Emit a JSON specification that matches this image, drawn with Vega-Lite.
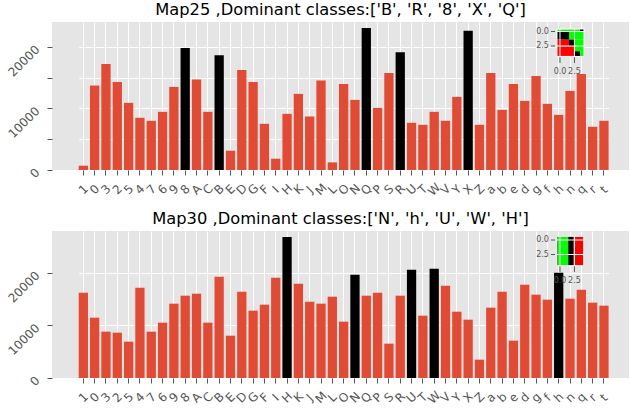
{
  "$schema": "https://vega.github.io/schema/vega-lite/v6.json",
  "background": "white",
  "padding": {"left": 5, "top": 1, "right": 0, "bottom": 0},
  "spacing": 12,
  "config": {
    "view": {"fill": "#E5E5E5", "stroke": null},
    "font": "DejaVu Sans",
    "axis": {"domain": false, "grid": true, "gridColor": "#FFFFFF", "gridWidth": 1, "tickColor": "#555555", "tickSize": 5, "tickWidth": 1, "labelColor": "#555555", "labelFont": "DejaVu Sans", "labelFontSize": 12},
    "title": {"font": "DejaVu Sans", "fontSize": 16.3, "fontWeight": "normal", "color": "#000000", "anchor": "middle", "frame": "group", "baseline": "alphabetic", "offset": 4}
  },
  "datasets": {
    "map25": [
      {"cls": "1", "value": 700, "dom": "no"},
      {"cls": "0", "value": 13730, "dom": "no"},
      {"cls": "3", "value": 17240, "dom": "no"},
      {"cls": "2", "value": 14320, "dom": "no"},
      {"cls": "5", "value": 10920, "dom": "no"},
      {"cls": "4", "value": 8490, "dom": "no"},
      {"cls": "7", "value": 8000, "dom": "no"},
      {"cls": "6", "value": 9460, "dom": "no"},
      {"cls": "9", "value": 13510, "dom": "no"},
      {"cls": "8", "value": 19840, "dom": "yes"},
      {"cls": "A", "value": 14700, "dom": "no"},
      {"cls": "C", "value": 9460, "dom": "no"},
      {"cls": "B", "value": 18650, "dom": "yes"},
      {"cls": "E", "value": 3135, "dom": "no"},
      {"cls": "D", "value": 16270, "dom": "no"},
      {"cls": "G", "value": 14320, "dom": "no"},
      {"cls": "F", "value": 7510, "dom": "no"},
      {"cls": "I", "value": 1840, "dom": "no"},
      {"cls": "H", "value": 9130, "dom": "no"},
      {"cls": "K", "value": 12380, "dom": "no"},
      {"cls": "J", "value": 8700, "dom": "no"},
      {"cls": "M", "value": 14540, "dom": "no"},
      {"cls": "L", "value": 1240, "dom": "no"},
      {"cls": "O", "value": 14000, "dom": "no"},
      {"cls": "N", "value": 11400, "dom": "no"},
      {"cls": "Q", "value": 23080, "dom": "yes"},
      {"cls": "P", "value": 10100, "dom": "no"},
      {"cls": "S", "value": 15780, "dom": "no"},
      {"cls": "R", "value": 19130, "dom": "yes"},
      {"cls": "U", "value": 7675, "dom": "no"},
      {"cls": "T", "value": 7350, "dom": "no"},
      {"cls": "W", "value": 9460, "dom": "no"},
      {"cls": "V", "value": 8000, "dom": "no"},
      {"cls": "Y", "value": 11890, "dom": "no"},
      {"cls": "X", "value": 22650, "dom": "yes"},
      {"cls": "Z", "value": 7350, "dom": "no"},
      {"cls": "a", "value": 15780, "dom": "no"},
      {"cls": "b", "value": 9780, "dom": "no"},
      {"cls": "e", "value": 14000, "dom": "no"},
      {"cls": "d", "value": 11240, "dom": "no"},
      {"cls": "g", "value": 15300, "dom": "no"},
      {"cls": "f", "value": 10760, "dom": "no"},
      {"cls": "h", "value": 8970, "dom": "no"},
      {"cls": "n", "value": 12860, "dom": "no"},
      {"cls": "q", "value": 15620, "dom": "no"},
      {"cls": "r", "value": 7030, "dom": "no"},
      {"cls": "t", "value": 8000, "dom": "no"}
    ],
    "map30": [
      {"cls": "1", "value": 16250, "dom": "no"},
      {"cls": "0", "value": 11490, "dom": "no"},
      {"cls": "3", "value": 8825, "dom": "no"},
      {"cls": "2", "value": 8635, "dom": "no"},
      {"cls": "5", "value": 6920, "dom": "no"},
      {"cls": "4", "value": 17200, "dom": "no"},
      {"cls": "7", "value": 8825, "dom": "no"},
      {"cls": "6", "value": 10540, "dom": "no"},
      {"cls": "9", "value": 14160, "dom": "no"},
      {"cls": "8", "value": 15680, "dom": "no"},
      {"cls": "A", "value": 16060, "dom": "no"},
      {"cls": "C", "value": 10540, "dom": "no"},
      {"cls": "B", "value": 19300, "dom": "no"},
      {"cls": "E", "value": 8060, "dom": "no"},
      {"cls": "D", "value": 16440, "dom": "no"},
      {"cls": "G", "value": 12825, "dom": "no"},
      {"cls": "F", "value": 13970, "dom": "no"},
      {"cls": "I", "value": 19110, "dom": "no"},
      {"cls": "H", "value": 26860, "dom": "yes"},
      {"cls": "K", "value": 17970, "dom": "no"},
      {"cls": "J", "value": 14540, "dom": "no"},
      {"cls": "M", "value": 14160, "dom": "no"},
      {"cls": "L", "value": 15490, "dom": "no"},
      {"cls": "O", "value": 10730, "dom": "no"},
      {"cls": "N", "value": 19680, "dom": "yes"},
      {"cls": "Q", "value": 15680, "dom": "no"},
      {"cls": "P", "value": 16250, "dom": "no"},
      {"cls": "S", "value": 6540, "dom": "no"},
      {"cls": "R", "value": 15680, "dom": "no"},
      {"cls": "U", "value": 20630, "dom": "yes"},
      {"cls": "T", "value": 11870, "dom": "no"},
      {"cls": "W", "value": 20825, "dom": "yes"},
      {"cls": "V", "value": 17590, "dom": "no"},
      {"cls": "Y", "value": 12630, "dom": "no"},
      {"cls": "X", "value": 11110, "dom": "no"},
      {"cls": "Z", "value": 3490, "dom": "no"},
      {"cls": "a", "value": 13400, "dom": "no"},
      {"cls": "b", "value": 16440, "dom": "no"},
      {"cls": "e", "value": 7110, "dom": "no"},
      {"cls": "d", "value": 17780, "dom": "no"},
      {"cls": "g", "value": 15870, "dom": "no"},
      {"cls": "f", "value": 14920, "dom": "no"},
      {"cls": "h", "value": 20060, "dom": "yes"},
      {"cls": "n", "value": 15110, "dom": "no"},
      {"cls": "q", "value": 16820, "dom": "no"},
      {"cls": "r", "value": 14350, "dom": "no"},
      {"cls": "t", "value": 13780, "dom": "no"}
    ],
    "inset25": [
      {"x1": -0.52, "x2": 3.45, "y1": -0.43, "y2": -0.03, "c": "g"},
      {"x1": 3.45, "x2": 4.14, "y1": -0.43, "y2": -0.03, "c": "k"},
      {"x1": -0.52, "x2": 1.55, "y1": -0.03, "y2": 1.41, "c": "k"},
      {"x1": 1.55, "x2": 4.14, "y1": -0.03, "y2": 1.41, "c": "g"},
      {"x1": -0.52, "x2": 1.55, "y1": 1.41, "y2": 2.55, "c": "r"},
      {"x1": 1.55, "x2": 2.41, "y1": 1.41, "y2": 2.55, "c": "k"},
      {"x1": 2.41, "x2": 4.14, "y1": 1.41, "y2": 3.41, "c": "g"},
      {"x1": -0.52, "x2": 2.41, "y1": 2.55, "y2": 4.3, "c": "r"},
      {"x1": 2.41, "x2": 3.45, "y1": 3.41, "y2": 4.3, "c": "k"},
      {"x1": 3.45, "x2": 4.14, "y1": 3.41, "y2": 4.3, "c": "g"}
    ],
    "inset30": [
      {"x1": -0.57, "x2": -0.4, "y1": -0.64, "y2": 4.43, "c": "k"},
      {"x1": -0.4, "x2": 1.43, "y1": -0.64, "y2": 4.43, "c": "g"},
      {"x1": 1.43, "x2": 2.36, "y1": -0.64, "y2": 4.43, "c": "k"},
      {"x1": 2.36, "x2": 4.09, "y1": -0.64, "y2": 4.43, "c": "r"}
    ],
    "insetTicks": [
      {"v": 0, "lab": "0.0"},
      {"v": 2.5, "lab": "2.5"}
    ],
    "frame25": [{"x1": -0.52, "x2": 4.14, "y1": -0.43, "y2": 4.3}],
    "frame30": [{"x1": -0.57, "x2": 4.09, "y1": -0.64, "y2": 4.43}]
  },
  "vconcat": [
    {
      "title": {"text": "Map25 ,Dominant classes:['B', 'R', '8', 'X', 'Q']"},
      "width": 577,
      "height": 148,
      "resolve": {"scale": {"x": "independent", "y": "independent", "color": "independent"}},
      "layer": [
        {
          "data": {"name": "map25"},
          "mark": {"type": "bar"},
          "encoding": {
            "x": {"field": "cls", "type": "nominal", "sort": null, "title": null,
                  "scale": {"paddingInner": 0.18, "paddingOuter": 0, "range": [26.7, 556.6]},
                  "axis": {"labelAngle": -45, "labelAlign": "center", "labelBaseline": "middle", "labelPadding": 14, "bandPosition": 0.5}},
            "y": {"field": "value", "type": "quantitative", "title": null,
                  "scale": {"domain": [0, 24065], "nice": false},
                  "axis": {"values": [0, 5000, 10000, 15000, 20000], "format": "d", "labelAngle": -45, "labelAlign": "right", "labelBaseline": "middle", "labelPadding": 10}},
            "color": {"field": "dom", "type": "nominal", "legend": null,
                      "scale": {"domain": ["no", "yes"], "range": ["#E24A33", "#000000"]}}
          }
        },
        {
          "layer": [
            {
              "data": {"name": "inset25"},
              "mark": {"type": "rect"},
              "encoding": {
                "x": {"field": "x1", "type": "quantitative", "axis": null, "scale": {"domain": [-87.59, 11.9], "nice": false, "zero": false}},
                "x2": {"field": "x2"},
                "y": {"field": "y1", "type": "quantitative", "axis": null, "scale": {"domain": [-1.638, 23.88], "nice": false, "zero": false, "reverse": true}},
                "y2": {"field": "y2"},
                "color": {"field": "c", "type": "nominal", "legend": null, "scale": {"domain": ["g", "r", "k"], "range": ["#00FF00", "#FF0000", "#000000"]}}
              }
            },
            {
              "data": {"name": "insetTicks"},
              "mark": {"type": "rule", "color": "#FFFFFF", "strokeWidth": 1},
              "encoding": {"x": {"field": "v", "type": "quantitative"}, "y": {"datum": -0.43}, "y2": {"datum": 4.3}}
            },
            {
              "data": {"name": "insetTicks"},
              "mark": {"type": "rule", "color": "#FFFFFF", "strokeWidth": 1},
              "encoding": {"y": {"field": "v", "type": "quantitative"}, "x": {"datum": -0.52}, "x2": {"datum": 4.14}}
            },
            {
              "data": {"name": "frame25"},
              "mark": {"type": "rect", "fill": null, "stroke": "#FFFFFF", "strokeWidth": 1},
              "encoding": {"x": {"field": "x1", "type": "quantitative"}, "x2": {"field": "x2"}, "y": {"field": "y1", "type": "quantitative"}, "y2": {"field": "y2"}}
            },
            {
              "data": {"name": "insetTicks"},
              "mark": {"type": "rule", "color": "#555555", "strokeWidth": 1},
              "encoding": {"y": {"field": "v", "type": "quantitative"}, "x": {"datum": -1.55}, "x2": {"datum": -0.86}}
            },
            {
              "data": {"name": "insetTicks"},
              "mark": {"type": "rule", "color": "#555555", "strokeWidth": 1},
              "encoding": {"x": {"field": "v", "type": "quantitative"}, "y": {"datum": 4.45}, "y2": {"datum": 5.43}}
            },
            {
              "data": {"name": "insetTicks"},
              "mark": {"type": "text", "align": "right", "baseline": "middle", "fontSize": 8, "color": "#555555", "font": "DejaVu Sans"},
              "encoding": {"y": {"field": "v", "type": "quantitative"}, "x": {"datum": -1.9}, "text": {"field": "lab"}}
            },
            {
              "data": {"name": "insetTicks"},
              "mark": {"type": "text", "align": "center", "baseline": "middle", "fontSize": 8, "color": "#555555", "font": "DejaVu Sans"},
              "encoding": {"x": {"field": "v", "type": "quantitative"}, "y": {"datum": 6.98}, "text": {"field": "lab"}}
            }
          ]
        }
      ]
    },
    {
      "title": {"text": "Map30 ,Dominant classes:['N', 'h', 'U', 'W', 'H']"},
      "width": 577,
      "height": 147,
      "resolve": {"scale": {"x": "independent", "y": "independent", "color": "independent"}},
      "layer": [
        {
          "data": {"name": "map30"},
          "mark": {"type": "bar"},
          "encoding": {
            "x": {"field": "cls", "type": "nominal", "sort": null, "title": null,
                  "scale": {"paddingInner": 0.18, "paddingOuter": 0, "range": [26.7, 556.6]},
                  "axis": {"labelAngle": -45, "labelAlign": "center", "labelBaseline": "middle", "labelPadding": 14, "bandPosition": 0.5}},
            "y": {"field": "value", "type": "quantitative", "title": null,
                  "scale": {"domain": [0, 28000], "nice": false},
                  "axis": {"values": [0, 10000, 20000], "format": "d", "labelAngle": -45, "labelAlign": "right", "labelBaseline": "middle", "labelPadding": 10}},
            "color": {"field": "dom", "type": "nominal", "legend": null,
                      "scale": {"domain": ["no", "yes"], "range": ["#E24A33", "#000000"]}}
          }
        },
        {
          "layer": [
            {
              "data": {"name": "inset30"},
              "mark": {"type": "rect"},
              "encoding": {
                "x": {"field": "x1", "type": "quantitative", "axis": null, "scale": {"domain": [-87.59, 11.9], "nice": false, "zero": false}},
                "x2": {"field": "x2"},
                "y": {"field": "y1", "type": "quantitative", "axis": null, "scale": {"domain": [-1.552, 23.79], "nice": false, "zero": false, "reverse": true}},
                "y2": {"field": "y2"},
                "color": {"field": "c", "type": "nominal", "legend": null, "scale": {"domain": ["g", "r", "k"], "range": ["#00FF00", "#FF0000", "#000000"]}}
              }
            },
            {
              "data": {"name": "insetTicks"},
              "mark": {"type": "rule", "color": "#FFFFFF", "strokeWidth": 1},
              "encoding": {"x": {"field": "v", "type": "quantitative"}, "y": {"datum": -0.64}, "y2": {"datum": 4.43}}
            },
            {
              "data": {"name": "insetTicks"},
              "mark": {"type": "rule", "color": "#FFFFFF", "strokeWidth": 1},
              "encoding": {"y": {"field": "v", "type": "quantitative"}, "x": {"datum": -0.57}, "x2": {"datum": 4.09}}
            },
            {
              "data": {"name": "frame30"},
              "mark": {"type": "rect", "fill": null, "stroke": "#FFFFFF", "strokeWidth": 1},
              "encoding": {"x": {"field": "x1", "type": "quantitative"}, "x2": {"field": "x2"}, "y": {"field": "y1", "type": "quantitative"}, "y2": {"field": "y2"}}
            },
            {
              "data": {"name": "insetTicks"},
              "mark": {"type": "rule", "color": "#555555", "strokeWidth": 1},
              "encoding": {"y": {"field": "v", "type": "quantitative"}, "x": {"datum": -1.55}, "x2": {"datum": -0.86}}
            },
            {
              "data": {"name": "insetTicks"},
              "mark": {"type": "rule", "color": "#555555", "strokeWidth": 1},
              "encoding": {"x": {"field": "v", "type": "quantitative"}, "y": {"datum": 4.55}, "y2": {"datum": 5.5}}
            },
            {
              "data": {"name": "insetTicks"},
              "mark": {"type": "text", "align": "right", "baseline": "middle", "fontSize": 8, "color": "#555555", "font": "DejaVu Sans"},
              "encoding": {"y": {"field": "v", "type": "quantitative"}, "x": {"datum": -1.9}, "text": {"field": "lab"}}
            },
            {
              "data": {"name": "insetTicks"},
              "mark": {"type": "text", "align": "center", "baseline": "middle", "fontSize": 8, "color": "#555555", "font": "DejaVu Sans"},
              "encoding": {"x": {"field": "v", "type": "quantitative"}, "y": {"datum": 7.07}, "text": {"field": "lab"}}
            }
          ]
        }
      ]
    }
  ]
}
